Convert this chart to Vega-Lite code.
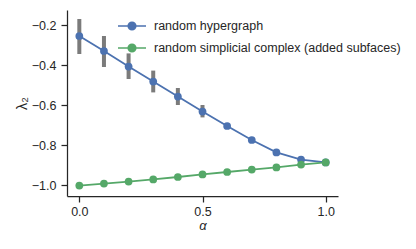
{
  "$schema": "https://vega.github.io/schema/vega-lite/v6.json",
  "width": 271,
  "height": 186,
  "autosize": {"type": "none"},
  "padding": {"left": 67, "top": 10, "right": 78, "bottom": 53},
  "background": "white",
  "config": {
    "view": {"stroke": null},
    "font": "Liberation Sans",
    "axis": {
      "grid": false,
      "domainColor": "#262626",
      "domainWidth": 1.25,
      "tickColor": "#262626",
      "tickWidth": 1.25,
      "tickSize": 6,
      "labelFont": "Liberation Sans",
      "labelFontSize": 12.5,
      "labelColor": "#262626",
      "titleFont": "Liberation Sans",
      "titleFontSize": 13,
      "titleFontWeight": "normal",
      "titleColor": "#262626"
    }
  },
  "data": {
    "values": [
      {"alpha": 0.0, "series": "random hypergraph", "value": -0.255, "lo": -0.345, "hi": -0.17},
      {"alpha": 0.1, "series": "random hypergraph", "value": -0.33, "lo": -0.41, "hi": -0.255},
      {"alpha": 0.2, "series": "random hypergraph", "value": -0.408, "lo": -0.47, "hi": -0.342},
      {"alpha": 0.3, "series": "random hypergraph", "value": -0.483, "lo": -0.537, "hi": -0.428},
      {"alpha": 0.4, "series": "random hypergraph", "value": -0.558, "lo": -0.6, "hi": -0.515},
      {"alpha": 0.5, "series": "random hypergraph", "value": -0.633, "lo": -0.662, "hi": -0.6},
      {"alpha": 0.6, "series": "random hypergraph", "value": -0.705, "lo": -0.712, "hi": -0.698},
      {"alpha": 0.7, "series": "random hypergraph", "value": -0.775, "lo": -0.779, "hi": -0.771},
      {"alpha": 0.8, "series": "random hypergraph", "value": -0.837, "lo": -0.84, "hi": -0.834},
      {"alpha": 0.9, "series": "random hypergraph", "value": -0.873, "lo": -0.875, "hi": -0.871},
      {"alpha": 1.0, "series": "random hypergraph", "value": -0.887, "lo": -0.887, "hi": -0.887},
      {"alpha": 0.0, "series": "random simplicial complex (added subfaces)", "value": -1.003, "lo": -1.003, "hi": -1.003},
      {"alpha": 0.1, "series": "random simplicial complex (added subfaces)", "value": -0.993, "lo": -0.993, "hi": -0.993},
      {"alpha": 0.2, "series": "random simplicial complex (added subfaces)", "value": -0.983, "lo": -0.983, "hi": -0.983},
      {"alpha": 0.3, "series": "random simplicial complex (added subfaces)", "value": -0.972, "lo": -0.972, "hi": -0.972},
      {"alpha": 0.4, "series": "random simplicial complex (added subfaces)", "value": -0.96, "lo": -0.96, "hi": -0.96},
      {"alpha": 0.5, "series": "random simplicial complex (added subfaces)", "value": -0.947, "lo": -0.947, "hi": -0.947},
      {"alpha": 0.6, "series": "random simplicial complex (added subfaces)", "value": -0.935, "lo": -0.935, "hi": -0.935},
      {"alpha": 0.7, "series": "random simplicial complex (added subfaces)", "value": -0.923, "lo": -0.923, "hi": -0.923},
      {"alpha": 0.8, "series": "random simplicial complex (added subfaces)", "value": -0.912, "lo": -0.912, "hi": -0.912},
      {"alpha": 0.9, "series": "random simplicial complex (added subfaces)", "value": -0.898, "lo": -0.898, "hi": -0.898},
      {"alpha": 1.0, "series": "random simplicial complex (added subfaces)", "value": -0.887, "lo": -0.887, "hi": -0.887}
    ]
  },
  "encoding": {
    "x": {
      "field": "alpha",
      "type": "quantitative",
      "scale": {"domain": [-0.05, 1.05], "nice": false, "zero": false},
      "axis": {"values": [0, 0.5, 1], "format": ".1f", "title": "α", "titleFontStyle": "italic", "titlePadding": 2, "labelPadding": 3}
    }
  },
  "layer": [
    {
      "mark": {"type": "rule", "color": "#7b7b7b", "strokeWidth": 4},
      "encoding": {
        "y": {
          "field": "lo",
          "type": "quantitative",
          "scale": {"domain": [-1.055, -0.125], "nice": false, "zero": false},
          "axis": {"values": [-1.0, -0.8, -0.6, -0.4, -0.2], "format": ".1f", "title": "λ₂", "titleFontSize": 14.5, "titlePadding": 2, "labelPadding": 5}
        },
        "y2": {"field": "hi"}
      }
    },
    {
      "mark": {"type": "line", "strokeWidth": 1.8},
      "encoding": {
        "y": {"field": "value", "type": "quantitative"},
        "color": {
          "field": "series",
          "type": "nominal",
          "scale": {"range": ["#4c72b0", "#55a868"]},
          "legend": {
            "orient": "none",
            "legendX": 50,
            "legendY": 1,
            "title": null,
            "symbolType": "M-1,0L1,0M0.27,0A0.27,0.27,0,1,1,-0.27,0A0.27,0.27,0,1,1,0.27,0Z",
            "symbolSize": 784,
            "symbolStrokeWidth": 1.6,
            "rowPadding": -10.5,
            "labelFont": "Liberation Sans",
            "labelFontSize": 12.5,
            "labelColor": "#262626",
            "labelOffset": 7,
            "labelLimit": 400,
            "encode": {
              "symbols": {
                "update": {
                  "fill": {"scale": "color", "field": "value"},
                  "stroke": {"scale": "color", "field": "value"},
                  "opacity": {"value": 1}
                }
              }
            }
          }
        }
      }
    },
    {
      "mark": {"type": "point", "filled": true, "size": 60, "opacity": 1},
      "encoding": {
        "y": {"field": "value", "type": "quantitative"},
        "color": {"field": "series", "type": "nominal", "legend": null}
      }
    }
  ]
}
